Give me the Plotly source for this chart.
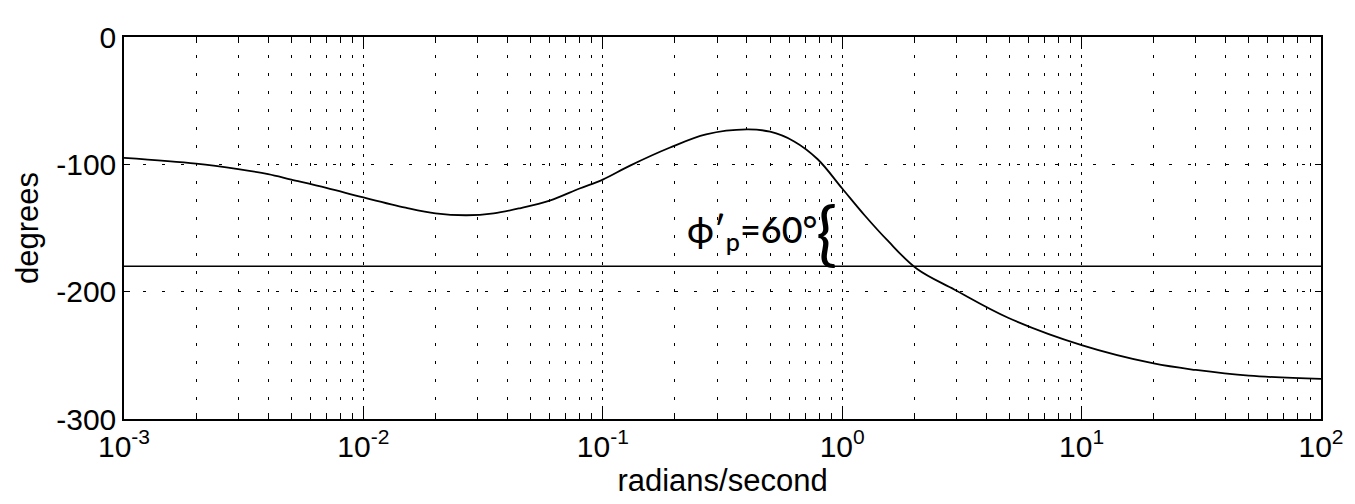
import plotly.graph_objects as go

# phase curve (rad/s, degrees)
omega = [0.001, 0.002, 0.003, 0.004, 0.005, 0.007, 0.01, 0.015, 0.02, 0.027,
         0.035, 0.045, 0.06, 0.08, 0.1, 0.13, 0.19, 0.27, 0.4, 0.5,
         0.63, 0.79, 1.0, 1.24, 1.55, 2.05, 2.95, 4.93, 10, 20,
         30, 50, 100]
phase = [-95.0, -99.5, -103.8, -107.7, -112.0, -118.5, -126.0, -134.0, -138.5, -140.0,
         -138.5, -134.5, -128.5, -119.0, -112.0, -101.0, -87.0, -76.5, -72.6, -74.4,
         -82.0, -96.0, -119.0, -140.0, -160.0, -182.0, -198.5, -220.5, -242.0, -256.4,
         -261.5, -266.0, -268.5]

ref_omega = [0.001, 100]
ref_phase = [-180, -180]

x_tickvals = [1e-3, 1e-2, 1e-1, 1e0, 1e1, 1e2]
x_ticktext = ["10<sup>-3</sup>", "10<sup>-2</sup>", "10<sup>-1</sup>",
              "10<sup>0</sup>", "10<sup>1</sup>", "10<sup>2</sup>"]
y_tickvals = [0, -100, -200, -300]
y_ticktext = ["0", "-100", "-200", "-300"]

font = "Liberation Sans, Arial, sans-serif"

fig = go.Figure()
fig.add_trace(go.Scatter(x=ref_omega, y=ref_phase, mode="lines",
                         line=dict(color="black", width=1.6), hoverinfo="skip"))
fig.add_trace(go.Scatter(x=omega, y=phase, mode="lines", line_shape="spline",
                         line=dict(color="black", width=1.8)))

# handwritten phase margin note
fig.add_annotation(x=-0.375, y=-153, xref="x", yref="y", showarrow=False,
                   text="ϕ′<sub>p</sub>=60°",
                   font=dict(family="Lato", size=36, color="black", weight=500))
fig.add_annotation(x=-0.065, y=-152, xref="x", yref="y", showarrow=False,
                   text="{", font=dict(family="Lato", size=70, color="black", weight=400))

fig.update_layout(
    width=1355, height=504,
    margin=dict(l=116, r=42, t=20, b=93),
    paper_bgcolor="white", plot_bgcolor="white",
    showlegend=False,
    font=dict(family=font, size=30, color="black"),
    xaxis=dict(
        type="log", range=[-3, 2],
        tickvals=x_tickvals, ticktext=x_ticktext,
        showgrid=True, gridcolor="black", gridwidth=1.3, griddash="3px,6px",
        ticks="inside", ticklen=11, tickwidth=1.3, tickcolor="black",
        showline=True, linecolor="black", linewidth=1.5, mirror="allticks",
        zeroline=False,
        minor=dict(dtick="D1", ticks="inside", ticklen=6, tickwidth=1.2, tickcolor="black",
                   showgrid=True, gridcolor="black", gridwidth=1.4, griddash="3px,15px"),
        tickfont=dict(size=30),
        title=dict(text="radians/second", font=dict(size=31), standoff=8),
    ),
    yaxis=dict(
        range=[-300, 0],
        tickvals=y_tickvals, ticktext=y_ticktext,
        showgrid=True, gridcolor="black", gridwidth=1.2, griddash="3px,16px",
        ticks="inside", ticklen=6, tickwidth=1.3, tickcolor="black",
        showline=True, linecolor="black", linewidth=1.5, mirror="allticks",
        zeroline=False,
        tickfont=dict(size=30),
        title=dict(text="degrees", font=dict(size=31), standoff=8),
    ),
)

fig.write_html("out.html")
